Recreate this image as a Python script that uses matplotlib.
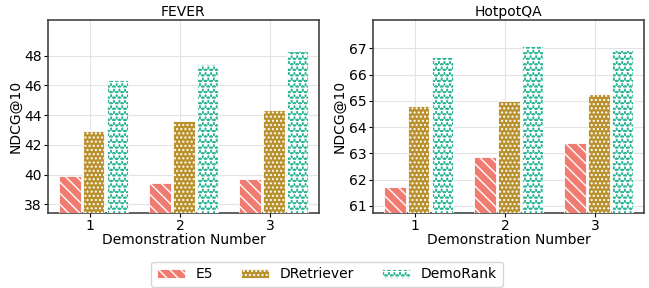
import numpy as np
import matplotlib.pyplot as plt

# Données
demos = [1, 2, 3]
methodes = ["E5", "DRetriever", "DemoRank"]
fever = {
    "E5": [39.9, 39.4, 39.7],
    "DRetriever": [42.9, 43.6, 44.35],
    "DemoRank": [46.35, 47.45, 48.35],
}
hotpot = {
    "E5": [61.7, 62.85, 63.4],
    "DRetriever": [64.8, 65.0, 65.25],
    "DemoRank": [66.68, 67.1, 66.95],
}
couleurs = ["#F07B70", "#B8902C", "#2BB594"]
hachures = ["\\\\\\", "....", "***"]

plt.rcParams['hatch.linewidth'] = 1.0

fig, axes = plt.subplots(1, 2, figsize=(6.49, 2.88), dpi=100)
x = np.array(demos, dtype=float)
w = 0.24
decal = [-0.225, 0.04, 0.305]

def tracer(ax, data, titre, ylim, yticks):
    barres = []
    for i, m in enumerate(methodes):
        b = ax.bar(x + decal[i], data[m], width=w, color=couleurs[i],
                   edgecolor="white", hatch=hachures[i], linewidth=0.6,
                   label=m, zorder=3)
        barres.append(b)
    ax.set_title(titre, fontsize=10, pad=3)
    ax.set_xticks(demos)
    ax.set_xlim(0.533, 3.54)
    ax.set_ylim(*ylim)
    ax.set_yticks(yticks)
    ax.tick_params(labelsize=10, length=3, pad=1.5)
    ax.set_xlabel("Demonstration Number", fontsize=10, labelpad=0)
    ax.set_ylabel("NDCG@10", fontsize=10, labelpad=1.5)
    ax.grid(True, color="#e3e3e3", linewidth=0.8, zorder=0)
    for s in ax.spines.values():
        s.set_color("#444444")
        s.set_linewidth(1.2)
    return barres

barres = tracer(axes[0], fever, "FEVER", (37.4, 50.4), [38, 40, 42, 44, 46, 48])
tracer(axes[1], hotpot, "HotpotQA", (60.72, 68.08), [61, 62, 63, 64, 65, 66, 67])

plt.subplots_adjust(left=0.074, right=0.992, top=0.93, bottom=0.26, wspace=0.20)
fig.legend(barres, methodes, loc="lower center", ncol=3, fontsize=10,
           bbox_to_anchor=(0.504, -0.02), columnspacing=2.0, handlelength=2.0,
           frameon=True)

fig.savefig("out.png", dpi=100)
